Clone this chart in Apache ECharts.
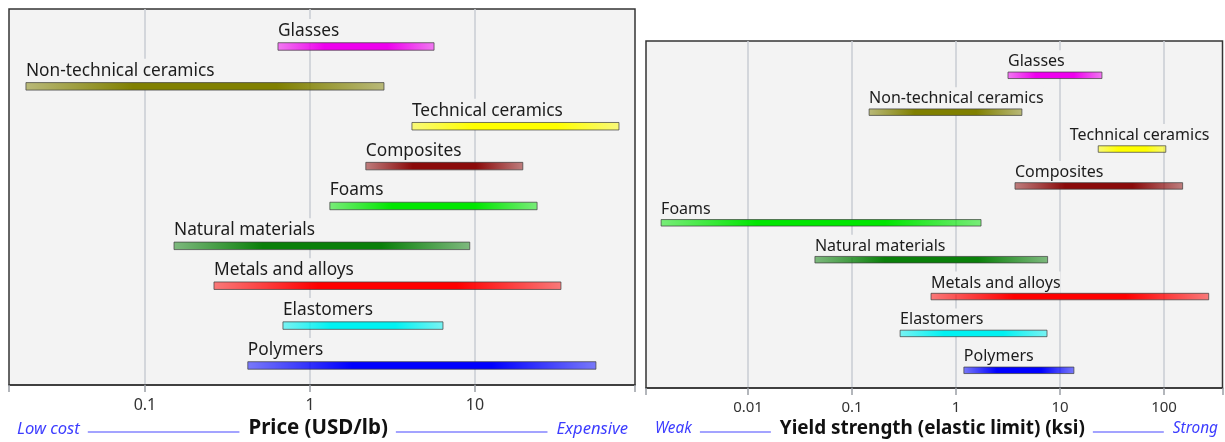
<!DOCTYPE html>
<html>
<head>
<meta charset="utf-8">
<title>Material families: price and yield strength</title>
<script src="https://cdn.jsdelivr.net/npm/echarts@6/dist/echarts.min.js"></script>
<style>
  html, body { margin: 0; padding: 0; background: #ffffff; }
  #chart { width: 1225px; height: 442px; }
</style>
</head>
<body>
<div id="chart"></div>
<script>
// Material families, top to bottom
const categories = [
  'Glasses', 'Non-technical ceramics', 'Technical ceramics', 'Composites', 'Foams',
  'Natural materials', 'Metals and alloys', 'Elastomers', 'Polymers'
];

// Price range, USD/lb
const priceLow  = [0.64, 0.019, 4.15, 2.18, 1.32, 0.15, 0.262, 0.686, 0.42];
const priceHigh = [5.65, 2.81, 74.6, 19.5, 23.8, 9.3, 33.2, 6.4, 54.1];

// Yield strength range, ksi
const strengthLow  = [3.16, 0.146, 23.3, 3.69, 0.00146, 0.044, 0.575, 0.29, 1.19];
const strengthHigh = [25.3, 4.3, 104, 151, 1.74, 7.6, 269, 7.5, 13.6];

// Labelled ticks on each axis
const priceTicks = [0.1, 1, 10];
const strengthTicks = [0.01, 0.1, 1, 10, 100];

// One colour per family
const palette = ['#ee00ee', '#808000', '#ffff00', '#8b0a0a', '#00e600', '#0a800a', '#ff0000', '#00f2f2', '#0000ff'];

const FONT = '"Noto Sans", "Open Sans", sans-serif';
const PLOT_BG = '#f3f3f3';

const measureCtx = document.createElement('canvas').getContext('2d');
function textWidth(text, font) {
  measureCtx.font = font;
  return measureCtx.measureText(text).width;
}

function rgba(hex, a) {
  const n = parseInt(hex.slice(1), 16);
  return 'rgba(' + (n >> 16) + ',' + ((n >> 8) & 255) + ',' + (n & 255) + ',' + a + ')';
}

// Bars fade toward both ends and are fully saturated in the middle
function barFill(hex) {
  return new echarts.graphic.LinearGradient(0, 0, 1, 0, [
    { offset: 0, color: rgba(hex, 0.5) },
    { offset: 0.3, color: rgba(hex, 1) },
    { offset: 0.7, color: rgba(hex, 1) },
    { offset: 1, color: rgba(hex, 0.5) }
  ]);
}

// Range bar with its family name written above the low end
function rangeRenderer(opts) {
  return function (params, api) {
    const idx = api.value(2);
    const a = api.coord([api.value(0), idx]);
    const b = api.coord([api.value(1), idx]);
    const cs = params.coordSys;
    const name = categories[idx];
    const w = textWidth(name, opts.font);
    const tx = Math.min(a[0], cs.x + cs.width - opts.rightPad - w);
    return {
      type: 'group',
      children: [
        {
          type: 'text',
          style: {
            text: name, x: tx, y: a[1] - opts.labelOffset,
            font: opts.font, fill: '#1c1c1c',
            align: 'left', verticalAlign: 'middle',
            backgroundColor: PLOT_BG, padding: [3, 0, 1, 0], lineHeight: opts.lineHeight
          }
        },
        {
          type: 'rect',
          shape: { x: a[0], y: a[1] - opts.barH / 2, width: b[0] - a[0], height: opts.barH },
          style: { fill: barFill(palette[idx]), stroke: 'rgba(60,60,60,0.7)', lineWidth: 1 }
        }
      ]
    };
  };
}

function xAxisFor(gridIndex, min, max, ticks, fontSize) {
  return {
    type: 'log', logBase: 10, gridIndex: gridIndex, min: min, max: max,
    position: 'bottom',
    axisLine: { show: true, onZero: false, lineStyle: { color: '#343434', width: 1.5 } },
    axisTick: { show: true, inside: false, length: 7,
                lineStyle: { color: '#9a9ea5', width: 1.5 } },
    axisLabel: { customValues: ticks, margin: 12, fontSize: fontSize, fontFamily: FONT, color: '#333333',
                 formatter: function (v) { return String(+(+v).toPrecision(4)); } },
    splitLine: { show: true, showMinLine: false, showMaxLine: false,
                 lineStyle: { color: '#c9cdd3', width: 1.5 } }
  };
}

function yAxisFor(gridIndex, min, max) {
  return { type: 'value', gridIndex: gridIndex, inverse: true, min: min, max: max, show: false };
}

const grids = [
  { left: 9, top: 9, width: 626, height: 376 },
  { left: 646, top: 41, width: 576.5, height: 347 }
];

// Caption row under each plot: low end, axis title, high end, joined by rules
function captionRow(grid, lowText, title, highText, sideSize, titleSize, y, insetL, insetR) {
  const sideFont = 'italic ' + sideSize + 'px ' + FONT;
  const titleFont = 'bold ' + titleSize + 'px ' + FONT;
  const left = grid.left + insetL;
  const right = grid.left + grid.width - insetR;
  const lowW = textWidth(lowText, sideFont);
  const highW = textWidth(highText, sideFont);
  const titleW = textWidth(title, titleFont);
  const lowEnd = left + lowW;
  const highStart = right - highW;
  const mid = (lowEnd + highStart) / 2;
  const tStart = mid - titleW / 2;
  const tEnd = mid + titleW / 2;
  const ruleStyle = { stroke: '#8585ff', lineWidth: 1.5 };
  return [
    { type: 'text', left: left, top: y - sideSize * 0.68, silent: true,
      style: { text: lowText, font: sideFont, fill: '#3d3dff' } },
    { type: 'text', left: highStart, top: y - sideSize * 0.68, silent: true,
      style: { text: highText, font: sideFont, fill: '#3d3dff' } },
    { type: 'text', left: tStart, top: y - titleSize * 0.68, silent: true,
      style: { text: title, font: titleFont, fill: '#111111' } },
    { type: 'line', silent: true, shape: { x1: lowEnd + 8, y1: y, x2: tStart - 9, y2: y }, style: ruleStyle },
    { type: 'line', silent: true, shape: { x1: tEnd + 8, y1: y, x2: highStart - 9, y2: y }, style: ruleStyle }
  ];
}

const chart = echarts.init(document.getElementById('chart'), null, { renderer: 'canvas' });

chart.setOption({
  animation: false,
  backgroundColor: '#ffffff',
  grid: grids.map(function (g) {
    return Object.assign({ show: true, backgroundColor: PLOT_BG, borderColor: '#343434', borderWidth: 1.5, containLabel: false }, g);
  }),
  xAxis: [
    xAxisFor(0, 0.015, 93.3, priceTicks, 16),
    xAxisFor(1, 0.001045, 365, strengthTicks, 15)
  ],
  yAxis: [
    yAxisFor(0, -0.94, 8.49),
    yAxisFor(1, -0.93, 8.48)
  ],
  series: [
    {
      type: 'custom', name: 'Price', xAxisIndex: 0, yAxisIndex: 0,
      encode: { x: [0, 1], y: 2 },
      data: categories.map(function (c, i) { return [priceLow[i], priceHigh[i], i]; }),
      renderItem: rangeRenderer({ font: '17.3px ' + FONT, barH: 7.5, labelOffset: 15.5, lineHeight: 20, rightPad: 13 })
    },
    {
      type: 'custom', name: 'Yield strength', xAxisIndex: 1, yAxisIndex: 1,
      encode: { x: [0, 1], y: 2 },
      data: categories.map(function (c, i) { return [strengthLow[i], strengthHigh[i], i]; }),
      renderItem: rangeRenderer({ font: '16px ' + FONT, barH: 6.5, labelOffset: 13.5, lineHeight: 19, rightPad: 13 })
    }
  ],
  graphic: [].concat(
    captionRow(grids[0], 'Low cost', 'Price (USD/lb)', 'Expensive', 16.6, 20.5, 432, 8, 7),
    captionRow(grids[1], 'Weak', 'Yield strength (elastic limit) (ksi)', 'Strong', 15.4, 18.9, 432, 9, 4.5)
  )
});
</script>
</body>
</html>
